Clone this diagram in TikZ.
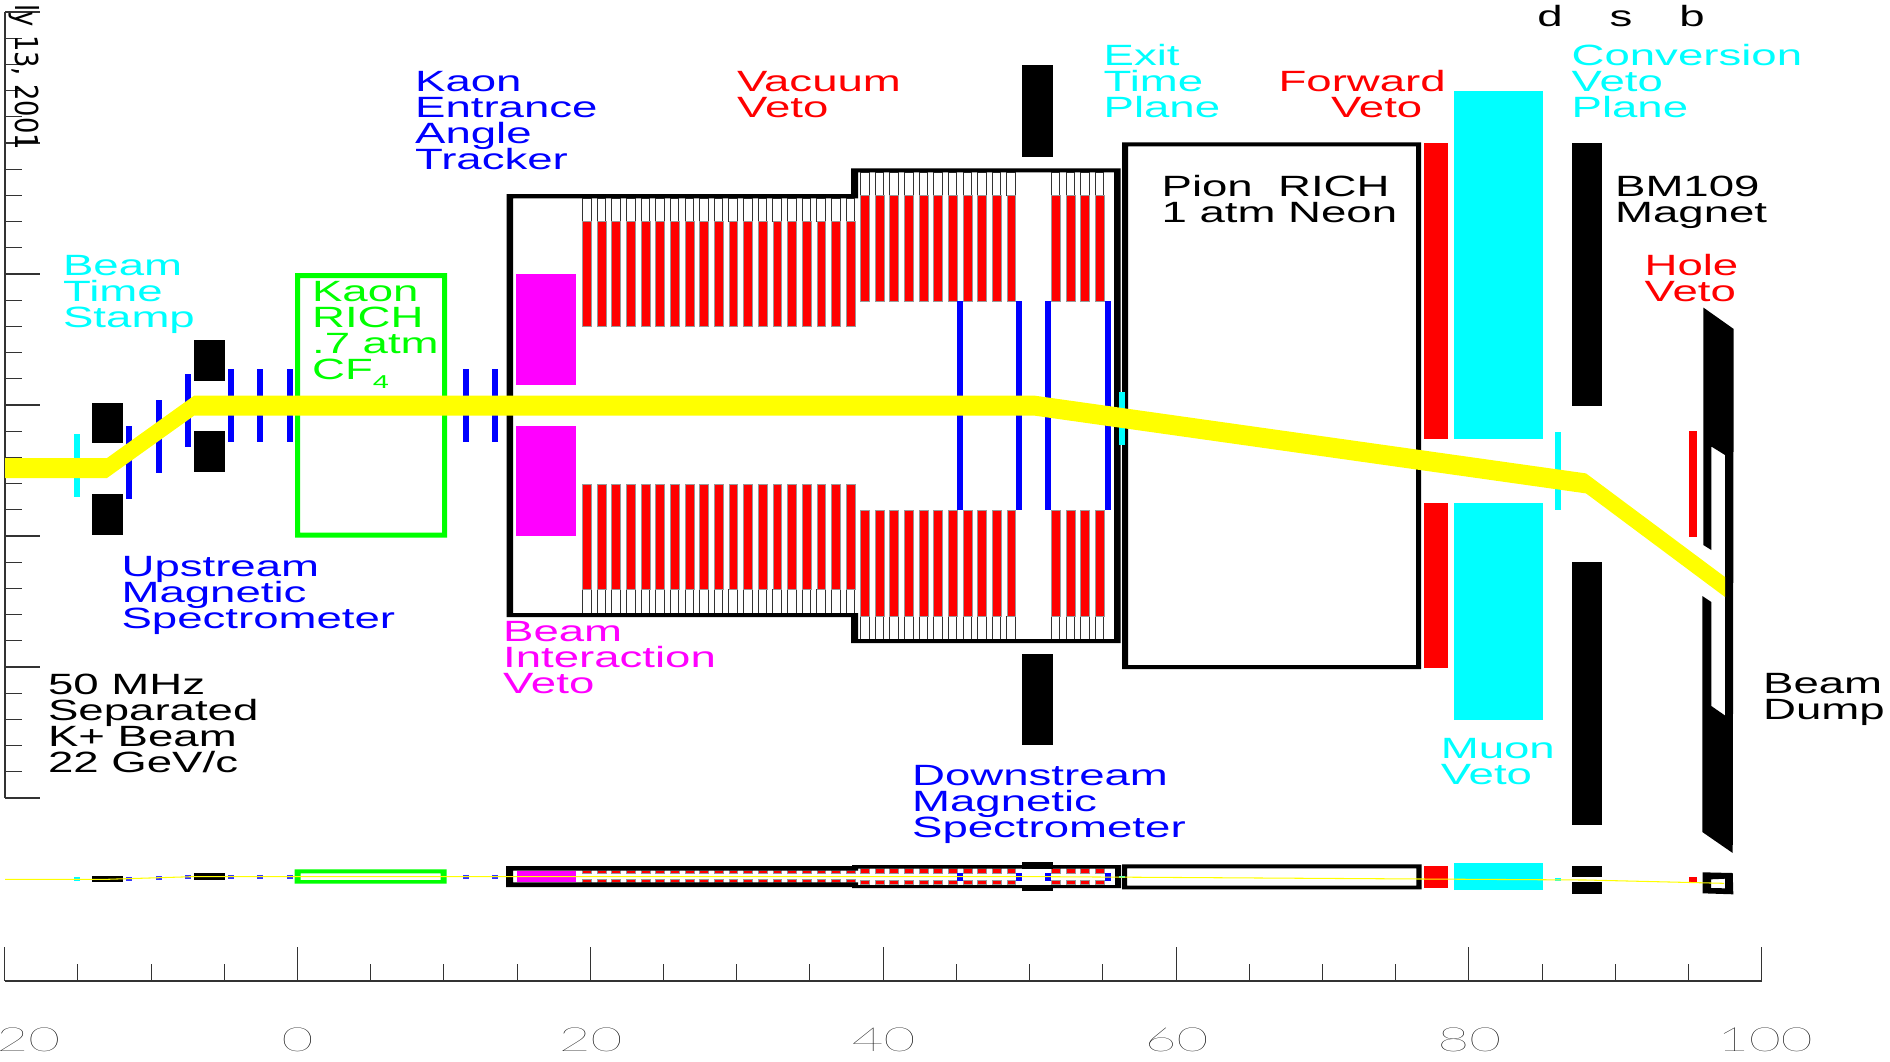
\documentclass[tikz,border=0pt]{standalone}
\usepackage{fontspec}
\setmainfont{Liberation Sans}
\newfontfamily\datefont{DejaVu Sans}
\newfontfamily\tickfont{Lato Hairline}
\newcommand{\lblfont}{\fontsize{8.34pt}{7.4pt}\selectfont\lineskiplimit=-20pt\relax}
\definecolor{detcyan}{RGB}{0,255,255}
\definecolor{detmagenta}{RGB}{255,0,255}
\definecolor{detyellow}{RGB}{255,255,0}
\definecolor{detgreen}{RGB}{0,255,0}
\definecolor{detblue}{RGB}{0,0,255}
\definecolor{detred}{RGB}{255,0,0}
\begin{document}
\begin{tikzpicture}[x=0.1mm,y=-0.1mm]
    \tikzstyle{lbl}=[inner sep=0pt,anchor=north west,align=left,xscale=1.555,transform shape,font=\lblfont]
    \tikzstyle{ticklbl}=[inner sep=0pt,anchor=base,xscale=1.64,transform shape,text=black,font=\tickfont\fontsize{9.5pt}{9.5pt}\selectfont]
    \tikzstyle{axisline}=[line width=.3pt,draw=black!80]
    \tikzstyle{wall}=[even odd rule]
    \tikzstyle{redblock}=[fill=detred,draw=black!40,line width=.15pt]
    \tikzstyle{whiteblock}=[fill=white,draw=black!80,line width=.25pt]
    \useasboundingbox (0,0) rectangle (1890,1061);

    % left axis
    \draw[axisline] (5,12) -- (5,798);
    \foreach \n in {0,...,30}
        \draw[axisline] (5,12+26.2*\n) -- (22,12+26.2*\n);
    \foreach \n in {0,5,...,30}
        \draw[axisline] (5,12+26.2*\n) -- (40,12+26.2*\n);
    \node[inner sep=0pt,anchor=base west,rotate=-90,xscale=.815,transform shape,font=\datefont\fontsize{9pt}{9pt}\selectfont] (date) at (15,4) {ly 13, 2001};

    % vacuum veto blocks, side view and plan view
    \foreach \start/\last/\wtop/\rtop/\rbot/\pa/\pb/\pc/\pd in {582.4/18/198/221.7/326.7/870.7/873.2/879.2/882.3, 860.4/10/172/195.3/301/868.5/873/880.7/884.3, 1051.3/3/172/195.3/301/868.5/873/880.7/884.3}
        \foreach \n in {0,...,\last} {
            \draw[whiteblock] (\start+14.65*\n,\wtop) rectangle ++(8.6,\rtop-\wtop);
            \draw[whiteblock] (\start+14.65*\n,811.4-\rtop) rectangle ++(8.6,\rtop-\wtop);
            \draw[redblock] (\start+14.65*\n,\rtop) rectangle (\start+14.65*\n+8.8,\rbot);
            \draw[redblock] (\start+14.65*\n,811.4-\rbot) rectangle (\start+14.65*\n+8.8,811.4-\rtop);
            \draw[redblock] (\start+14.65*\n,\pa) rectangle (\start+14.65*\n+8.8,\pb);
            \draw[redblock] (\start+14.65*\n,\pc) rectangle (\start+14.65*\n+8.8,\pd);
        }

    % beam interaction veto
    \fill[detmagenta] (516,274) rectangle (576,385);
    \fill[detmagenta] (516,426) rectangle (576,536);
    \fill[detmagenta] (517,870.7) rectangle (576,882.3);

    % tracking chambers
    \foreach \xa/\ya/\yb/\pa/\pb in {126/426/499/877/880.7, 156/400/473/876/880, 185/374/447/874.7/878.7, 228/369/442/874.7/878.7, 257/369/442/874.7/878.7, 287/369/442/874.7/878.7, 463/369/442/874.7/878.7, 492/369/442/874.7/878.7} {
        \fill[detblue] (\xa,\ya) rectangle (\xa+6,\yb);
        \fill[detblue!80!white] (\xa,\pa) rectangle (\xa+6,\pb);
    }
    \foreach \xa in {957,1016,1045,1104.5} {
        \fill[detblue] (\xa,301) rectangle (\xa+6,510);
        \fill[detblue] (\xa,872.5) rectangle (\xa+6,881);
    }

    % sweeping magnets
    \foreach \xa/\ya/\yb/\pa/\pb in {92/402.5/494/876/881.7, 194/340/431/873.3/880} {
        \fill[black] (\xa,\ya) rectangle (\xa+31,\ya+40.5);
        \fill[black] (\xa,\yb) rectangle (\xa+31,\yb+40.5);
        \fill[black] (\xa,\pa) rectangle (\xa+31,\pb);
    }

    % kaon rich
    \fill[detgreen,wall] (295,273) rectangle (447,537.5) (300,278) rectangle (442,532.5);
    \fill[detgreen,wall] (294.5,869.3) rectangle (446.6,883.7) (300.5,873.3) rectangle (440.6,880);

    % decay tank
    \fill[black,wall] (506.5,194) -- (851,194) -- (851,168.3) -- (1120.7,168.3) -- (1120.7,643) -- (851,643) -- (851,617) -- (506.5,617) -- cycle
        (513,198.3) -- (858,198.3) -- (858,172.3) -- (1114,172.3) -- (1114,639) -- (858,639) -- (858,613) -- (513,613) -- cycle;
    \fill[black,wall] (506,866) -- (852,866) -- (852,865) -- (1121,865) -- (1121,888) -- (852,888) -- (852,887) -- (506,887) -- cycle
        (513,870.7) -- (858,870.7) -- (858,868.5) -- (1115,868.5) -- (1115,885) -- (858,885) -- (858,882.3) -- (513,882.3) -- cycle;

    % spectrometer magnet
    \fill[black] (1022,65) rectangle (1052.7,157);
    \fill[black] (1022,654) rectangle (1052.7,745);
    \fill[black] (1022,862.3) rectangle (1052.7,868.5);
    \fill[black] (1022,885) rectangle (1052.7,890.7);

    % pion rich
    \fill[black,wall] (1122,142.4) rectangle (1421,669) (1128,146.4) rectangle (1416,665);
    \fill[black,wall] (1122,864.3) rectangle (1421.5,889.3) (1127,868.3) rectangle (1416.4,885.7);

    % forward veto
    \foreach \ya/\yb in {143.4/438.7, 503.3/667.7, 866/887.7}
        \fill[detred] (1424,\ya) rectangle (1448,\yb);

    % muon veto
    \foreach \ya/\yb in {91/438.7, 503.3/720, 863.3/889.7}
        \fill[detcyan] (1454.3,\ya) rectangle (1543,\yb);

    % exit and conversion planes
    \foreach \xa/\ya/\yb/\pa/\pb in {1119/392/444.7/875.7/878.3, 1555/431.5/510.4/877.7/880.7, 74/434/497/877.3/880.7} {
        \fill[detcyan] (\xa,\ya) rectangle (\xa+6,\yb);
        \fill[detcyan] (\xa,\pa) rectangle (\xa+6,\pb);
    }

    % dipole
    \foreach \ya/\yb in {143.4/405.5, 562/824.6, 866/876.7, 882.3/893.7}
        \fill[black] (1571.7,\ya) rectangle (1602,\yb);

    % hole veto
    \foreach \ya/\yb in {431/537, 877.3/882.7}
        \fill[detred] (1689,\ya) rectangle (1696.7,\yb);

    % beam dump
    \fill[black] (1703.3,307.5) -- (1733.7,329) -- (1732.7,853) -- (1702.3,832) -- (1702.3,596) -- (1711.3,602) -- (1711.3,706) -- (1725,715.5) -- (1725,455) -- (1711.3,446.5) -- (1711.3,550) -- (1703.3,545) -- cycle;
    \fill[black,wall] (1702.7,872.3) -- (1732.7,873) -- (1733.3,894.3) -- (1702.7,893.3) -- cycle (1711,879.3) -- (1725,878.7) -- (1725,888.3) -- (1711,888) -- cycle;

    % beam
    \fill[detyellow] (5,458) -- (107,458) -- (194,395.7) -- (1035,395.7) -- (1586,473.4) -- (1725,577) -- (1725,597) -- (1586,493.4) -- (1035,415.7) -- (194,415.7) -- (107,478) -- (5,478) -- cycle;
    \draw[detyellow,line width=.3pt] (5,879.3) -- (107,879.3) -- (194,876.6) -- (1035,876.6) -- (1586,880) -- (1724,883.3);

    % bottom axis
    \draw[axisline] (4.6,981) -- (1761.7,981);
    \foreach \n in {0,...,24}
        \draw[axisline] (4.6+73.213*\n,964) -- (4.6+73.213*\n,981);
    \foreach \n in {0,4,...,24}
        \draw[axisline] (4.6+73.213*\n,947) -- (4.6+73.213*\n,981);
    \foreach \n/\val/\xa in {1/20/28.5, 2/0/297.4, 3/20/590.7, 4/40/883.5, 5/60/1176.5, 6/80/1469.4, 7/100/1765}
        \node[ticklbl] (T-\n) at (\xa,1051) {\val};

    % labels
    \node[lbl,text=detcyan] (bts) at (62,254.6) {Beam\\Time\\Stamp};
    \node[lbl,text=detblue] (keat) at (414,70.6) {Kaon\\Entrance\\Angle\\Tracker};
    \node[lbl,text=detgreen] (krich) at (311,281) {Kaon\\RICH\\.7 atm\\CF\raisebox{-.09cm}{\fontsize{5.3pt}{5.3pt}\selectfont 4}};
    \node[lbl,text=detblue] (ums) at (120.5,555.6) {Upstream\\Magnetic\\Spectrometer};
    \node[lbl,text=detmagenta] (biv) at (502,621) {Beam\\Interaction\\Veto};
    \node[lbl,text=black] (beaminfo) at (47,673) {50 MHz\\Separated\\K+ Beam\\22 GeV/c};
    \node[lbl,text=detred] (vv) at (736,70.6) {Vacuum\\Veto};
    \node[lbl,text=detcyan] (etp) at (1102.5,43.6) {Exit\\Time\\Plane};
    \node[lbl,text=detred] (fv) at (1277.5,69.6) {Forward\\\hspace*{.337cm}Veto};
    \node[lbl,text=black] (prich) at (1160.5,175) {Pion\ \ RICH\\1 atm Neon};
    \node[lbl,text=detcyan] (cvp) at (1570.5,43.6) {Conversion\\Veto\\Plane};
    \node[lbl,text=black] (bm109) at (1614,175) {BM109\\Magnet};
    \node[lbl,text=detred] (hv) at (1643.5,254) {Hole\\Veto};
    \node[lbl,text=detblue] (dms) at (911,764.5) {Downstream\\Magnetic\\Spectrometer};
    \node[lbl,text=detcyan] (mv) at (1439.7,738) {Muon\\Veto};
    \node[lbl,text=black] (dump) at (1762,673) {Beam\\Dump};
    \foreach \name/\xa in {d/1550, s/1621, b/1692}
        \node[lbl,anchor=base] (ch-\name) at (\xa,26) {\name};
\end{tikzpicture}
\end{document}
